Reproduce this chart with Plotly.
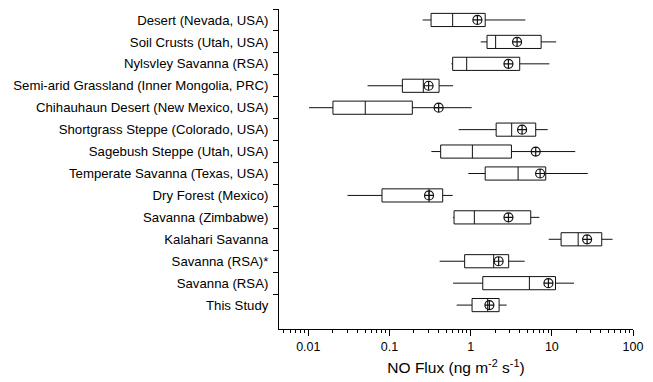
import numpy as np
import plotly.graph_objects as go

categories = [
    "Desert (Nevada, USA)",
    "Soil Crusts (Utah, USA)",
    "Nylsvley Savanna (RSA)",
    "Semi-arid Grassland (Inner Mongolia, PRC)",
    "Chihauhaun Desert (New Mexico, USA)",
    "Shortgrass Steppe (Colorado, USA)",
    "Sagebush Steppe (Utah, USA)",
    "Temperate Savanna (Texas, USA)",
    "Dry Forest (Mexico)",
    "Savanna (Zimbabwe)",
    "Kalahari Savanna",
    "Savanna (RSA)*",
    "Savanna (RSA)",
    "This Study",
]
whisker_low = [0.256, 1.33, 0.578, 0.0537, 0.0102, 0.711, 0.328, 0.937, 0.0304, 0.607, 9.16, 0.415, 0.607, 0.672]
q1 = [0.325, 1.59, 0.600, 0.144, 0.0201, 2.06, 0.427, 1.51, 0.0808, 0.624, 13.0, 0.843, 1.41, 1.04]
median = [0.600, 2.03, 0.893, 0.261, 0.0503, 3.20, 1.05, 3.84, 0.307, 1.11, 21.1, 1.92, 5.29, 1.62]
q3 = [1.51, 7.38, 4.02, 0.408, 0.191, 6.33, 3.18, 8.41, 0.452, 5.50, 41.2, 2.94, 11.1, 2.24]
whisker_high = [4.72, 11.3, 9.34, 0.607, 1.03, 8.90, 19.4, 27.7, 0.600, 7.03, 55.9, 4.63, 18.8, 2.78]
mean = [1.21, 3.73, 2.92, 0.303, 0.403, 4.30, 6.33, 7.17, 0.307, 2.92, 27.2, 2.21, 9.08, 1.70]

major_ticks = [0.01, 0.1, 1, 10, 100]
major_labels = ["0.01", "0.1", "1", "10", "100"]
minor_ticks = [m * 10.0 ** e for e in range(-3, 2) for m in range(2, 10)]

fig = go.Figure()
fig.add_trace(go.Box(
    y=categories, q1=q1, median=median, q3=q3,
    lowerfence=whisker_low, upperfence=whisker_high,
    orientation="h", width=0.6, whiskerwidth=0,
    fillcolor="white", line=dict(color="#111111", width=1),
    boxpoints=False, showlegend=False, hoverinfo="skip",
))
fig.add_trace(go.Scatter(
    x=mean, y=categories, mode="markers",
    marker=dict(symbol="circle-cross-open", size=9, color="#111111",
                line=dict(width=1.2, color="#111111")),
    showlegend=False, hoverinfo="skip",
))

fig.update_layout(
    width=653, height=382,
    margin=dict(l=279, r=20, t=9, b=53),
    paper_bgcolor="white", plot_bgcolor="white",
    font=dict(family="Liberation Sans, Arial, sans-serif", color="black"),
    xaxis=dict(
        type="log", range=[np.log10(0.00435), 2.0],
        tickvals=major_ticks, ticktext=major_labels,
        ticks="outside", ticklen=6, tickwidth=1, tickcolor="black",
        showline=True, linecolor="black", linewidth=1,
        showgrid=False, zeroline=False,
        tickfont=dict(size=12.5),
        minor=dict(tickvals=minor_ticks, ticks="outside", ticklen=3,
                   tickwidth=1, tickcolor="black", showgrid=False),
        title=dict(text="NO Flux (ng m<sup>-2</sup> s<sup>-1</sup>)",
                   font=dict(size=15.5), standoff=9),
    ),
    yaxis=dict(
        type="category", categoryorder="array", categoryarray=categories,
        range=[14.09, -0.5],
        tickson="boundaries", ticks="outside", ticklen=5, tickwidth=1,
        tickcolor="black",
        showline=True, linecolor="black", linewidth=1,
        showgrid=False, zeroline=False,
        tickfont=dict(size=13.2),
        ticklabelstandoff=7,
    ),
)

fig.write_html("out.html")
